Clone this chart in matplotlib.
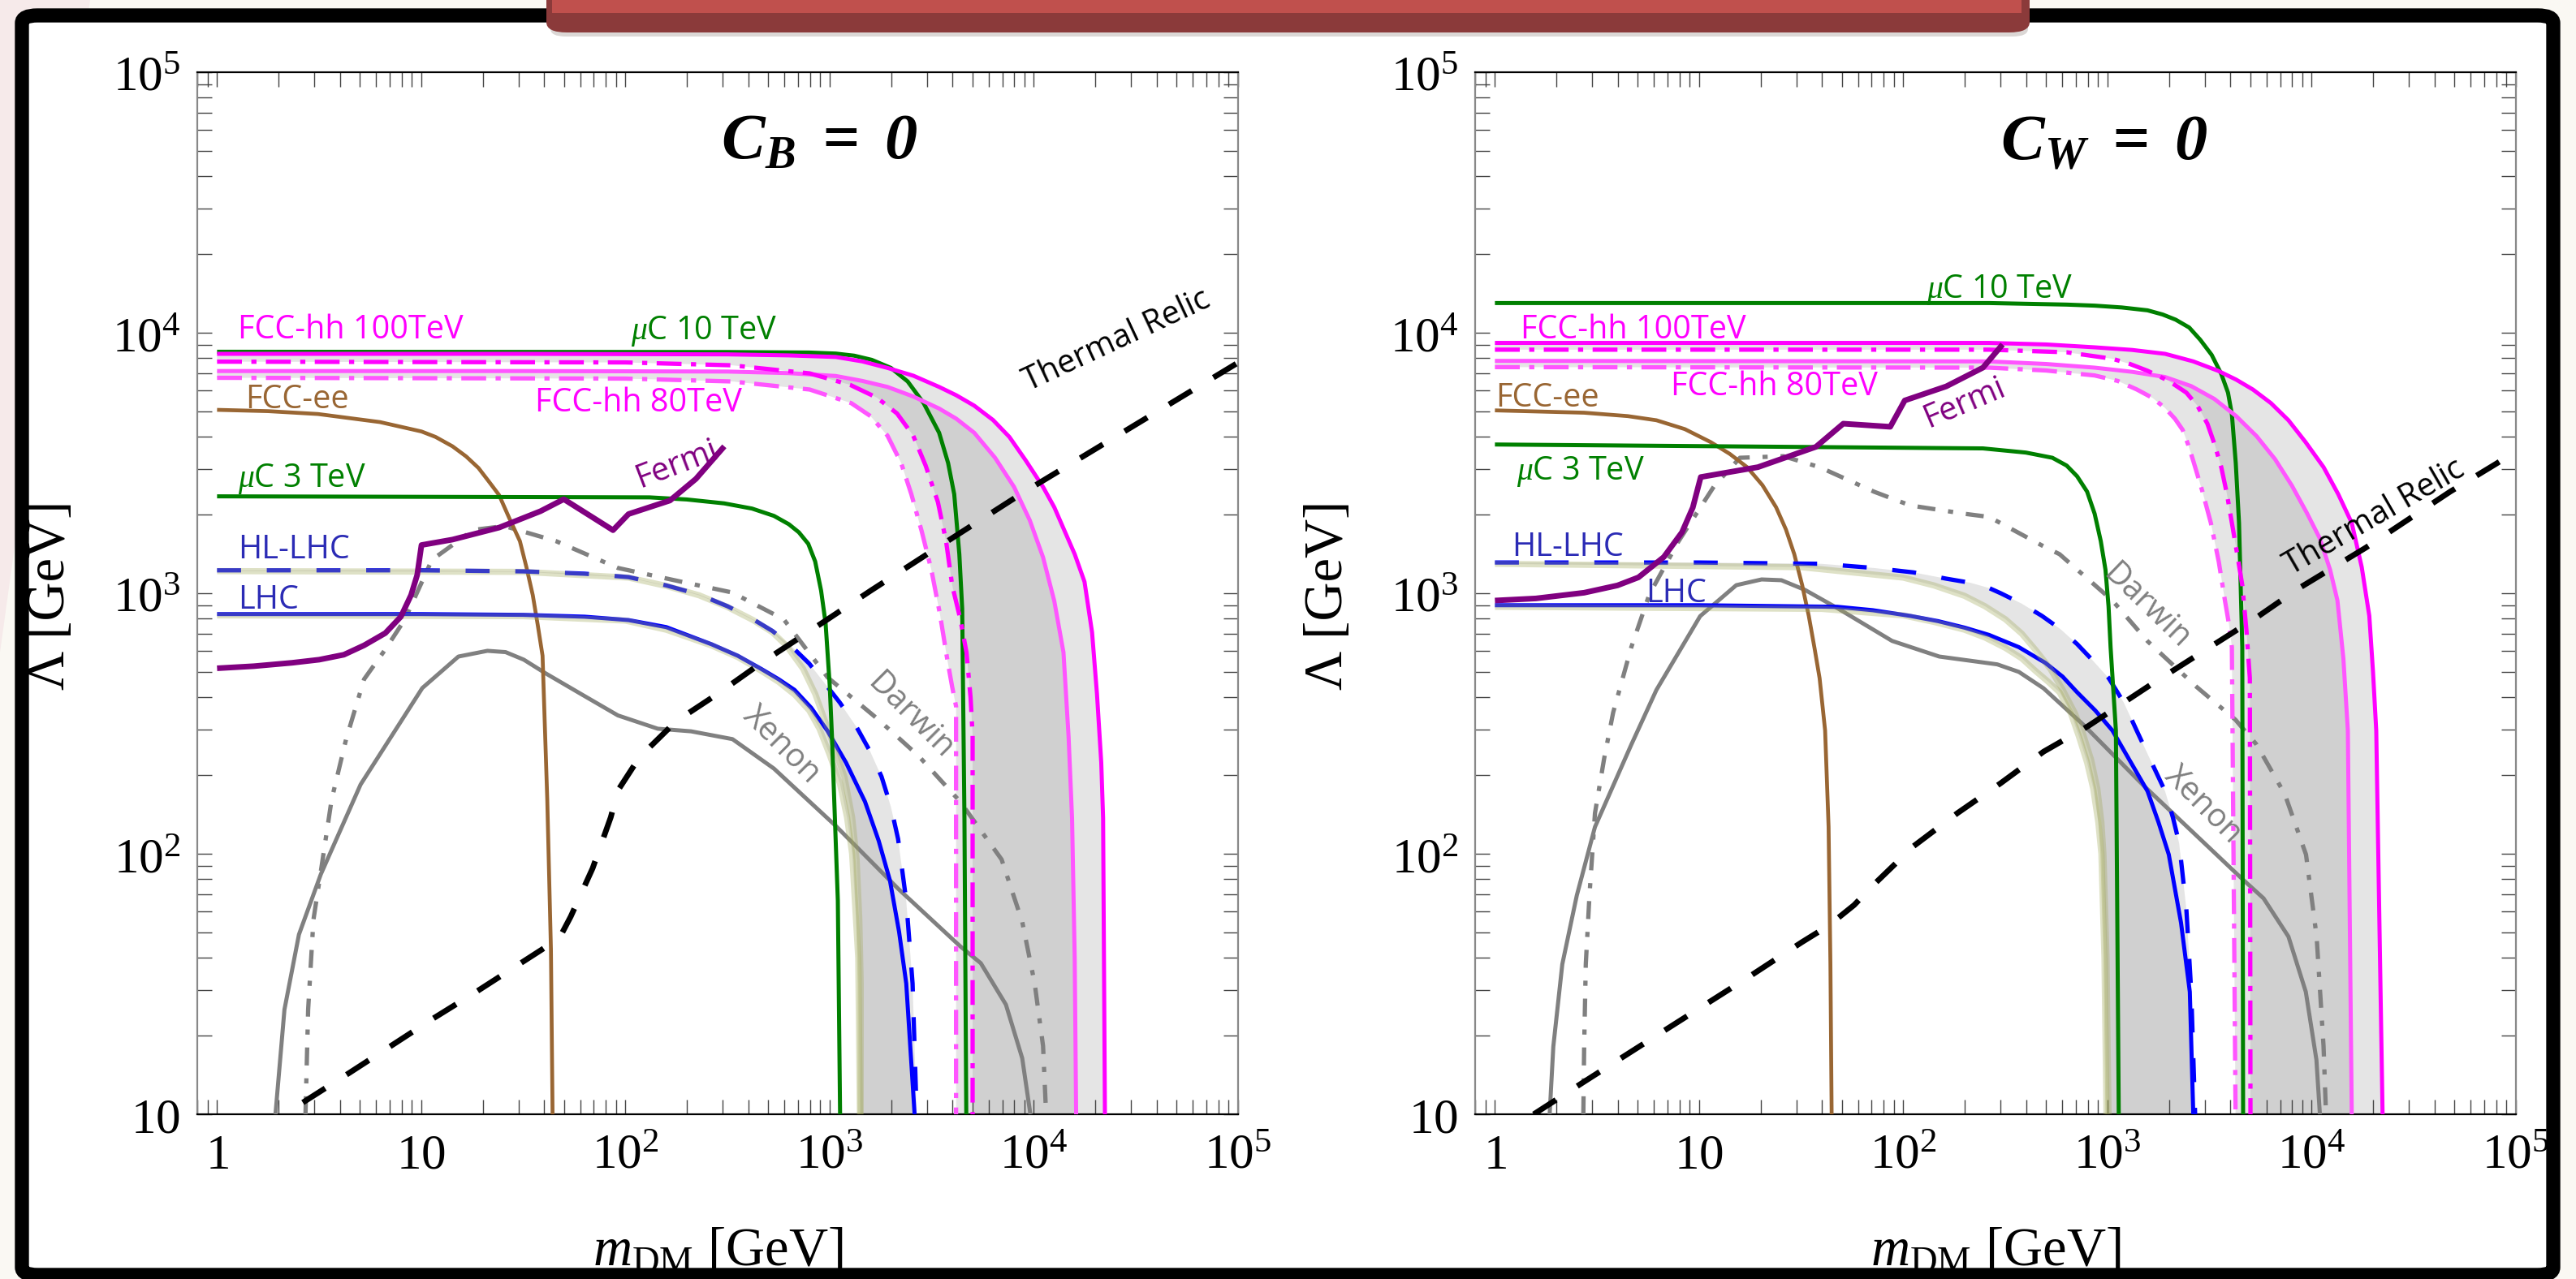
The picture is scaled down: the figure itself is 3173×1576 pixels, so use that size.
import matplotlib
matplotlib.use("Agg")
import numpy as np
import matplotlib.pyplot as plt
from matplotlib.patches import FancyBboxPatch, Polygon, Rectangle
from matplotlib.ticker import FixedLocator, FixedFormatter, LogLocator, NullFormatter

plt.rcParams.update({
    'mathtext.fontset': 'custom',
    'mathtext.rm': 'Liberation Serif',
    'mathtext.it': 'Liberation Serif:italic',
    'mathtext.bf': 'Liberation Serif:bold:italic',
})

# ---------------------------------------------------------------------------
# curves, as log10(m_DM / GeV) and log10(Lambda / GeV)
# ---------------------------------------------------------------------------
# left panel, C_B = 0
cb_uc10_m = [0, 2.5, 2.9, 3.03, 3.12, 3.206, 3.3, 3.382, 3.46, 3.536, 3.58, 3.61, 3.635, 3.649, 3.66, 3.669]
cb_uc10_L = [3.927, 3.926, 3.924, 3.92, 3.912, 3.896, 3.865, 3.813, 3.73, 3.616, 3.5, 3.38, 3.15, 2.941, 2.137, 1.0]
cb_uc3_m = [0, 2.118, 2.3, 2.483, 2.62, 2.727, 2.8, 2.849, 2.895, 2.929, 2.958, 2.98, 3.0, 3.011, 3.04, 3.051]
cb_uc3_L = [3.372, 3.368, 3.36, 3.345, 3.325, 3.297, 3.265, 3.234, 3.19, 3.122, 3.01, 2.885, 2.65, 2.455, 1.82, 1.0]
cb_fcc100_m = [0, 1.5, 2.5, 2.8, 3.03, 3.16, 3.283, 3.41, 3.536, 3.62, 3.708, 3.8, 3.88, 3.96, 4.045,
               4.1, 4.145, 4.2, 4.248, 4.285, 4.309, 4.33, 4.339, 4.348]
cb_fcc100_L = [3.919, 3.919, 3.917, 3.913, 3.907, 3.89, 3.865, 3.835, 3.792, 3.76, 3.72, 3.665, 3.6, 3.51,
               3.408, 3.33, 3.249, 3.15, 3.044, 2.85, 2.614, 2.35, 2.137, 1.0]
cb_fcc100dd_m = [0, 2.0, 2.522, 2.902, 3.1, 3.231, 3.33, 3.409, 3.47, 3.53, 3.57, 3.60, 3.64, 3.67, 3.69, 3.70, 3.70]
cb_fcc100dd_L = [3.889, 3.886, 3.875, 3.844, 3.8, 3.751, 3.69, 3.605, 3.49, 3.35, 3.2, 3.03, 2.9, 2.773, 2.6, 2.455, 1.0]
cb_fcc80_m = [0, 1.5, 2.5, 2.8, 3.03, 3.16, 3.283, 3.41, 3.536, 3.62, 3.708, 3.81, 3.903, 3.98, 4.045,
              4.1, 4.145, 4.17, 4.187, 4.2, 4.207]
cb_fcc80_L = [3.853, 3.853, 3.851, 3.845, 3.834, 3.815, 3.792, 3.755, 3.709, 3.67, 3.616, 3.52, 3.408, 3.28,
              3.138, 2.97, 2.773, 2.45, 2.137, 1.6, 1.0]
cb_fcc80dd_m = [0, 2.0, 2.522, 2.902, 3.105, 3.2, 3.283, 3.35, 3.40, 3.45, 3.498, 3.54, 3.577, 3.60, 3.619, 3.619]
cb_fcc80dd_L = [3.827, 3.824, 3.813, 3.782, 3.73, 3.68, 3.605, 3.5, 3.38, 3.24, 3.09, 2.92, 2.741, 2.64, 2.566, 1.0]
cb_ee_m = [0, 0.25, 0.494, 0.798, 1.001, 1.07, 1.153, 1.22, 1.28, 1.33, 1.381, 1.43, 1.483, 1.515, 1.546,
           1.57, 1.594, 1.617, 1.635, 1.643]
cb_ee_L = [3.704, 3.699, 3.688, 3.657, 3.621, 3.6, 3.564, 3.525, 3.481, 3.43, 3.377, 3.29, 3.2, 3.1, 2.993,
           2.88, 2.76, 2.208, 1.632, 1.0]
cb_hl_m = [0, 1.0, 1.5, 1.8, 2.015, 2.2, 2.361, 2.5, 2.625, 2.72, 2.808, 2.9, 2.969, 3.05, 3.132, 3.2,
           3.254, 3.3, 3.335, 3.375, 3.406, 3.426]
cb_hl_L = [3.088, 3.088, 3.084, 3.075, 3.062, 3.03, 2.995, 2.95, 2.9, 2.855, 2.80, 2.73, 2.661, 2.58, 2.486,
           2.39, 2.296, 2.18, 2.057, 1.82, 1.502, 1.0]
cb_lhc_m = [0, 1.0, 1.5, 1.8, 2.015, 2.2, 2.422, 2.55, 2.666, 2.75, 2.828, 2.91, 2.99, 3.08, 3.173, 3.24,
            3.295, 3.34, 3.375, 3.416]
cb_lhc_L = [2.92, 2.92, 2.917, 2.91, 2.897, 2.87, 2.804, 2.76, 2.709, 2.67, 2.629, 2.56, 2.471, 2.35, 2.2,
            2.05, 1.898, 1.7, 1.502, 1.0]
cb_olhl_m = [0, 1.5, 2.015, 2.2, 2.361, 2.5, 2.625, 2.72, 2.787, 2.87, 2.929, 3.0, 3.072, 3.11, 3.132, 3.145, 3.152, 3.152]
cb_olhl_L = [3.085, 3.082, 3.06, 3.028, 2.992, 2.947, 2.897, 2.85, 2.8, 2.71, 2.614, 2.46, 2.296, 2.14, 1.978, 1.75, 1.502, 1.0]
cb_ollhc_m = [0, 1.5, 2.0, 2.2, 2.42, 2.55, 2.67, 2.75, 2.83, 2.9, 2.95, 3.0, 3.05, 3.085, 3.11, 3.14, 3.148]
cb_ollhc_L = [2.915, 2.912, 2.895, 2.86, 2.80, 2.755, 2.70, 2.66, 2.61, 2.55, 2.48, 2.38, 2.27, 2.14, 2.0, 1.6, 1.0]
cb_fermi_m = [0, 0.18, 0.367, 0.5, 0.621, 0.72, 0.824, 0.9, 0.95, 0.98, 1.001, 1.153, 1.381, 1.584, 1.698,
              1.939, 2.015, 2.218, 2.345, 2.484]
cb_fermi_L = [2.712, 2.72, 2.733, 2.745, 2.764, 2.8, 2.847, 2.91, 2.993, 3.07, 3.185, 3.206, 3.252, 3.315,
              3.361, 3.242, 3.304, 3.356, 3.439, 3.564]
cb_xenon_m = [0.286, 0.33, 0.401, 0.508, 0.703, 0.845, 1.005, 1.182, 1.324, 1.413, 1.502, 1.608, 1.785,
              1.963, 2.158, 2.321, 2.524, 2.727, 3.031, 3.335, 3.639, 3.74, 3.863, 3.943, 3.983]
cb_xenon_L = [1.0, 1.402, 1.69, 1.921, 2.266, 2.44, 2.636, 2.757, 2.779, 2.774, 2.745, 2.693, 2.612,
              2.531, 2.48, 2.47, 2.44, 2.327, 2.106, 1.866, 1.645, 1.58, 1.421, 1.215, 1.0]
cb_darwin_m = [0.433, 0.446, 0.472, 0.517, 0.561, 0.632, 0.72, 0.82, 0.92, 1.052, 1.255, 1.407, 1.66,
               1.963, 2.269, 2.522, 2.775, 2.99, 3.234, 3.436, 3.639, 3.842, 3.943, 4.004, 4.045, 4.06]
cb_darwin_L = [1.0, 1.402, 1.747, 1.978, 2.208, 2.44, 2.67, 2.78, 2.9, 3.128, 3.243, 3.258, 3.2,
               3.097, 3.045, 3.003, 2.9, 2.677, 2.518, 2.375, 2.2, 1.978, 1.739, 1.502, 1.262, 1.0]
cb_relic_m = [0.42, 0.65, 0.845, 1.057, 1.271, 1.59, 1.679, 1.732, 1.839, 1.928, 1.963, 2.069, 2.159,
              2.247, 2.452, 2.666, 2.99, 3.203, 3.517, 3.943, 5.01]
cb_relic_L = [1.045, 1.16, 1.259, 1.367, 1.471, 1.632, 1.68, 1.759, 1.944, 2.14, 2.243, 2.371, 2.44,
              2.508, 2.614, 2.733, 2.9, 3.011, 3.17, 3.384, 3.89]

# right panel, C_W = 0
cw_uc10_m = [0, 2.42, 2.8, 2.937, 3.07, 3.196, 3.27, 3.334, 3.4, 3.454, 3.51, 3.557, 3.59, 3.609, 3.628,
             3.644, 3.66, 3.664]
cw_uc10_L = [4.114, 4.114, 4.108, 4.104, 4.097, 4.086, 4.07, 4.05, 4.02, 3.973, 3.915, 3.842, 3.77, 3.687,
             3.5, 3.27, 2.793, 1.0]
cw_uc3_m = [0, 2.39, 2.6, 2.73, 2.8, 2.851, 2.9, 2.937, 2.967, 2.99, 3.005, 3.015, 3.041, 3.055]
cw_uc3_L = [3.571, 3.556, 3.54, 3.52, 3.49, 3.449, 3.39, 3.305, 3.2, 3.09, 2.95, 2.793, 2.473, 1.0]
cw_fcc100_m = [0, 2.42, 2.7, 2.937, 3.12, 3.282, 3.42, 3.541, 3.63, 3.712, 3.8, 3.886, 3.97, 4.058, 4.13,
               4.196, 4.245, 4.282, 4.3, 4.316, 4.347]
cw_fcc100_L = [3.961, 3.961, 3.955, 3.944, 3.934, 3.919, 3.89, 3.854, 3.82, 3.782, 3.73, 3.664, 3.58, 3.484,
               3.38, 3.27, 3.1, 2.913, 2.7, 2.473, 1.0]
cw_fcc100dd_m = [0, 2.42, 2.8, 3.024, 3.11, 3.196, 3.3, 3.386, 3.44, 3.489, 3.525, 3.557, 3.585, 3.609,
                 3.635, 3.66, 3.68, 3.697, 3.70]
cw_fcc100dd_L = [3.935, 3.935, 3.925, 3.9, 3.88, 3.854, 3.815, 3.77, 3.72, 3.651, 3.57, 3.484, 3.38, 3.27,
                 3.15, 3.031, 2.86, 2.674, 1.0]
cw_fcc80_m = [0, 2.42, 2.7, 2.937, 3.12, 3.282, 3.41, 3.523, 3.63, 3.73, 3.82, 3.903, 3.975, 4.04, 4.09,
              4.126, 4.155, 4.177, 4.196]
cw_fcc80_L = [3.892, 3.89, 3.88, 3.866, 3.85, 3.83, 3.795, 3.746, 3.68, 3.603, 3.515, 3.413, 3.31, 3.21,
              3.09, 2.972, 2.75, 2.473, 1.0]
cw_fcc80dd_m = [0, 2.42, 2.7, 2.937, 3.05, 3.144, 3.22, 3.282, 3.33, 3.368, 3.395, 3.42, 3.465, 3.506,
                3.545, 3.575, 3.595, 3.609, 3.627]
cw_fcc80dd_L = [3.868, 3.866, 3.855, 3.836, 3.815, 3.782, 3.75, 3.711, 3.67, 3.627, 3.57, 3.508, 3.39, 3.27,
                3.12, 2.972, 2.88, 2.793, 1.0]
cw_ee_m = [0, 0.437, 0.65, 0.791, 0.93, 1.057, 1.15, 1.235, 1.31, 1.377, 1.425, 1.466, 1.505, 1.537, 1.565,
           1.59, 1.617, 1.634, 1.643, 1.649]
cw_ee_L = [3.702, 3.693, 3.68, 3.664, 3.63, 3.58, 3.535, 3.484, 3.415, 3.33, 3.245, 3.15, 3.03, 2.913, 2.79,
           2.674, 2.473, 2.103, 1.576, 1.0]
cw_hl_m = [0, 1.0, 1.6, 1.856, 2.05, 2.21, 2.33, 2.42, 2.477, 2.58, 2.679, 2.77, 2.851, 2.93, 3.006, 3.08,
           3.144, 3.21, 3.282, 3.32, 3.351, 3.386, 3.41, 3.429]
cw_hl_L = [3.118, 3.118, 3.113, 3.097, 3.08, 3.056, 3.04, 3.02, 3.0, 2.96, 2.913, 2.862, 2.805, 2.74, 2.674,
           2.58, 2.471, 2.36, 2.24, 2.14, 2.04, 1.788, 1.47, 1.0]
cw_lhc_m = [0, 1.0, 1.677, 1.85, 2.034, 2.17, 2.3, 2.42, 2.566, 2.695, 2.78, 2.851, 2.94, 3.024, 3.1, 3.196,
            3.25, 3.3, 3.36, 3.403, 3.42]
cw_lhc_L = [2.954, 2.954, 2.948, 2.935, 2.913, 2.893, 2.868, 2.84, 2.793, 2.733, 2.68, 2.62, 2.55, 2.473,
            2.37, 2.24, 2.12, 1.997, 1.735, 1.47, 1.0]
cw_olhl_m = [0, 1.5, 2.0, 2.15, 2.3, 2.4, 2.5, 2.58, 2.65, 2.72, 2.78, 2.84, 2.88, 2.92, 2.95, 2.97, 2.98, 2.995, 3.005]
cw_olhl_L = [3.113, 3.10, 3.06, 3.03, 2.99, 2.95, 2.90, 2.845, 2.78, 2.71, 2.63, 2.54, 2.46, 2.36, 2.25, 2.12, 2.0, 1.6, 1.0]
cw_ollhc_m = [0, 1.6, 2.0, 2.15, 2.3, 2.4, 2.5, 2.58, 2.65, 2.71, 2.765, 2.82, 2.86, 2.9, 2.93, 2.955, 2.97, 2.985, 2.995]
cw_ollhc_L = [2.948, 2.94, 2.915, 2.89, 2.86, 2.83, 2.79, 2.75, 2.70, 2.66, 2.62, 2.54, 2.45, 2.35, 2.25, 2.12, 2.0, 1.6, 1.0]
cw_fermi_m = [0, 0.2, 0.437, 0.6, 0.703, 0.827, 0.916, 0.969, 1.008, 1.288, 1.572, 1.706, 1.936, 2.007,
              2.21, 2.39, 2.486]
cw_fermi_L = [2.972, 2.98, 3.002, 3.03, 3.061, 3.139, 3.234, 3.329, 3.446, 3.484, 3.562, 3.651, 3.639, 3.74,
              3.794, 3.866, 3.955]
cw_xenon_m = [0.268, 0.286, 0.33, 0.401, 0.49, 0.668, 0.791, 1.005, 1.182, 1.306, 1.403, 1.518, 1.679,
              1.945, 2.176, 2.46, 2.566, 2.687, 2.886, 3.179, 3.66, 3.764, 3.886, 3.971, 4.023, 4.04]
cw_xenon_L = [1.0, 1.26, 1.576, 1.84, 2.103, 2.419, 2.629, 2.912, 3.031, 3.053, 3.05, 3.013, 2.942,
              2.817, 2.757, 2.727, 2.698, 2.635, 2.492, 2.26, 1.903, 1.829, 1.682, 1.47, 1.209, 1.0]
cw_darwin_m = [0.433, 0.437, 0.445, 0.463, 0.49, 0.535, 0.579, 0.668, 0.756, 0.898, 1.075, 1.2, 1.413,
               1.59, 1.856, 2.034, 2.3, 2.42, 2.687, 2.765, 3.024, 3.196, 3.437, 3.627, 3.73, 3.868,
               3.972, 4.024, 4.058, 4.07]
cw_darwin_L = [1.0, 1.26, 1.576, 1.84, 2.156, 2.366, 2.542, 2.793, 2.995, 3.198, 3.413, 3.52, 3.526,
               3.484, 3.39, 3.337, 3.305, 3.293, 3.18, 3.15, 2.972, 2.816, 2.64, 2.514, 2.419, 2.229,
               1.997, 1.682, 1.26, 1.0]
cw_relic_m = [0.19, 0.437, 0.791, 1.235, 1.502, 1.634, 1.759, 1.856, 2.05, 2.265, 2.477, 2.687, 2.903,
              3.214, 3.73, 3.937, 4.265, 4.678, 4.903, 5.01]
cw_relic_L = [1.0, 1.125, 1.302, 1.523, 1.66, 1.724, 1.803, 1.882, 2.029, 2.156, 2.271, 2.392, 2.489,
              2.65, 2.907, 3.019, 3.175, 3.39, 3.497, 3.55]

x_ticks = [1, 10, 100, 1e3, 1e4, 1e5]
x_ticklabels = ['$1$', '$10$', '$10^{2}$', '$10^{3}$', '$10^{4}$', '$10^{5}$']
y_ticks = [10, 100, 1e3, 1e4, 1e5]
y_ticklabels = ['$10$', '$10^{2}$', '$10^{3}$', '$10^{4}$', '$10^{5}$']

GREEN = '#008000'
MAG = '#ff00ff'
MAG2 = '#ff55ff'
BROWN = '#996633'
BLUE = '#0000ff'
PURPLE = '#800080'
GRAY = '#808080'
OLIVE = '#a3aa5c'
LBLUE = '#2b2bb5'
SANS = 'Open Sans'
SERIF = 'Liberation Serif'

W, H = 3173, 1576
fig = plt.figure(figsize=(W / 100, H / 100), dpi=100, facecolor='#faf8f3')

# decorative frame
fig.add_artist(Polygon([(0, 1), (0.035, 1), (0, 0.49)], closed=True, transform=fig.transFigure,
                       facecolor='#f6eaea', edgecolor='none', zorder=-20))
fig.add_artist(FancyBboxPatch((27 / W, 5 / H), (3145 - 27) / W, (1571 - 19) / H,
                              boxstyle='round,pad=0,rounding_size=0.006', transform=fig.transFigure,
                              facecolor='white', edgecolor='none', zorder=-10))
fig.add_artist(FancyBboxPatch((27 / W, 5 / H), (3145 - 27) / W, (1571 - 19) / H,
                              boxstyle='round,pad=0,rounding_size=0.006', transform=fig.transFigure,
                              facecolor='none', edgecolor='black', lw=12.5, zorder=20))
fig.add_artist(FancyBboxPatch((678 / W, 1 - 45 / H), (2498 - 678) / W, 45 / H,
                              boxstyle='round,pad=0,rounding_size=0.006', transform=fig.transFigure,
                              facecolor='#b8b0ac', edgecolor='none', alpha=0.5, zorder=20.5))
fig.add_artist(FancyBboxPatch((673 / W, 1 - 40 / H), (2500 - 673) / W, 60 / H,
                              boxstyle='round,pad=0,rounding_size=0.008', transform=fig.transFigure,
                              facecolor='#8b3a3a', edgecolor='none', zorder=21))
fig.add_artist(Rectangle((680 / W, 1 - 16 / H), (2490 - 680) / W, 20 / H, transform=fig.transFigure,
                         facecolor='#c0504d', edgecolor='none', zorder=22))


def lg(v):
    return 10 ** np.asarray(v, dtype=float)


def band(ax, ma, La, mb, Lb):
    px = np.concatenate([lg(ma), lg(mb)[::-1]])
    py = np.concatenate([lg(La), lg(Lb)[::-1]])
    ax.fill(px, py, color='0.5', alpha=0.2, lw=0, zorder=1)


panels = [
    dict(left=243,
         title=r'$\mathbf{C_B}\ \mathbf{=}\ \mathbf{0}$', title_x=0.598,
         uc10=(cb_uc10_m, cb_uc10_L), uc3=(cb_uc3_m, cb_uc3_L),
         fcc100=(cb_fcc100_m, cb_fcc100_L), fcc100dd=(cb_fcc100dd_m, cb_fcc100dd_L),
         fcc80=(cb_fcc80_m, cb_fcc80_L), fcc80dd=(cb_fcc80dd_m, cb_fcc80dd_L),
         ee=(cb_ee_m, cb_ee_L), hl=(cb_hl_m, cb_hl_L), lhc=(cb_lhc_m, cb_lhc_L),
         olhl=(cb_olhl_m, cb_olhl_L), ollhc=(cb_ollhc_m, cb_ollhc_L),
         fermi=(cb_fermi_m, cb_fermi_L), xenon=(cb_xenon_m, cb_xenon_L),
         darwin=(cb_darwin_m, cb_darwin_L), relic=(cb_relic_m, cb_relic_L),
         labels=[('FCC-hh 100TeV', 0.101, 3.978, MAG, 0),
                 (r'$\mu$C 10 TeV', 2.027, 3.975, GREEN, 0),
                 ('FCC-ee', 0.139, 3.710, BROWN, 0),
                 ('FCC-hh 80TeV', 1.558, 3.698, MAG, 0),
                 (r'$\mu$C 3 TeV', 0.101, 3.408, GREEN, 0),
                 ('HL-LHC', 0.101, 3.134, LBLUE, 0),
                 ('LHC', 0.101, 2.941, LBLUE, 0)],
         rlabels=[('Fermi', 2.25, 3.495, PURPLE, 21),
                  ('Darwin', 3.394, 2.527, GRAY, -45),
                  ('Xenon', 2.766, 2.417, GRAY, -45),
                  ('Thermal Relic', 4.408, 3.969, 'black', 25)]),
    dict(left=1817,
         title=r'$\mathbf{C_W}\ \mathbf{=}\ \mathbf{0}$', title_x=0.604,
         uc10=(cw_uc10_m, cw_uc10_L), uc3=(cw_uc3_m, cw_uc3_L),
         fcc100=(cw_fcc100_m, cw_fcc100_L), fcc100dd=(cw_fcc100dd_m, cw_fcc100dd_L),
         fcc80=(cw_fcc80_m, cw_fcc80_L), fcc80dd=(cw_fcc80dd_m, cw_fcc80dd_L),
         ee=(cw_ee_m, cw_ee_L), hl=(cw_hl_m, cw_hl_L), lhc=(cw_lhc_m, cw_lhc_L),
         olhl=(cw_olhl_m, cw_olhl_L), ollhc=(cw_ollhc_m, cw_ollhc_L),
         fermi=(cw_fermi_m, cw_fermi_L), xenon=(cw_xenon_m, cw_xenon_L),
         darwin=(cw_darwin_m, cw_darwin_L), relic=(cw_relic_m, cw_relic_L),
         labels=[('FCC-hh 100TeV', 0.127, 3.978, MAG, 0),
                 (r'$\mu$C 10 TeV', 2.114, 4.134, GREEN, 0),
                 ('FCC-ee', 0.002, 3.717, BROWN, 0),
                 ('FCC-hh 80TeV', 0.862, 3.760, MAG, 0),
                 (r'$\mu$C 3 TeV', 0.107, 3.436, GREEN, 0),
                 ('HL-LHC', 0.083, 3.143, LBLUE, 0),
                 ('LHC', 0.739, 2.966, LBLUE, 0)],
         rlabels=[('Fermi', 2.301, 3.729, PURPLE, 23),
                  ('Darwin', 3.192, 2.947, GRAY, -44),
                  ('Xenon', 3.47, 2.187, GRAY, -45),
                  ('Thermal Relic', 4.308, 3.29, 'black', 30)]),
]

for p in panels:
    ax = fig.add_axes([p['left'] / W, (H - 1373) / H, 1282 / W, 1284 / H])
    ax.set_xscale('log')
    ax.set_yscale('log')
    ax.set_xlim(0.8, 1e5)
    ax.set_ylim(10, 1e5)

    # shaded bands
    band(ax, *p['fcc100dd'], *p['fcc100'])
    band(ax, *p['fcc80dd'], *p['fcc80'])
    band(ax, *p['olhl'], *p['hl'])
    band(ax, *p['ollhc'], *p['lhc'])

    def line(key, **kw):
        m, L = p[key]
        ax.plot(lg(m), lg(L), solid_capstyle='butt', dash_capstyle='butt',
                solid_joinstyle='round', **kw)

    line('xenon', color=GRAY, lw=3.6, zorder=3)
    line('darwin', color=GRAY, lw=3.8, dashes=[4.2, 3.0, 1.2, 3.0], zorder=3)
    line('ee', color=BROWN, lw=3.4, zorder=4)
    line('lhc', color=BLUE, lw=3.6, zorder=4)
    line('hl', color=BLUE, lw=3.8, dashes=[5.6, 6.0], zorder=4)
    line('olhl', color=OLIVE, lw=5.5, alpha=0.35, zorder=5)
    line('ollhc', color=OLIVE, lw=5.5, alpha=0.35, zorder=5)
    line('uc3', color=GREEN, lw=3.6, zorder=5)
    line('uc10', color=GREEN, lw=3.6, zorder=5)
    line('fcc80', color=MAG2, lw=3.6, zorder=5)
    line('fcc80dd', color=MAG2, lw=3.8, dashes=[5.8, 2.2, 1.2, 2.2], zorder=5)
    line('fcc100', color=MAG, lw=3.6, zorder=6)
    line('fcc100dd', color=MAG, lw=3.8, dashes=[5.8, 2.2, 1.2, 2.2], zorder=6)
    line('fermi', color=PURPLE, lw=5, zorder=6)
    line('relic', color='black', lw=5, dashes=[4.7, 4.5], zorder=7)

    for s, lx, ly, c, r in p['labels']:
        ax.text(10 ** lx, 10 ** ly, s, color=c, fontsize=28.5, family=SANS,
                ha='left', va='baseline', zorder=10)
    for s, lx, ly, c, r in p['rlabels']:
        ax.text(10 ** lx, 10 ** ly, s, color=c, fontsize=28.5, family=SANS,
                ha='center', va='center', rotation=r, rotation_mode='anchor', zorder=10)

    ax.text(p['title_x'], 0.933, p['title'], transform=ax.transAxes, fontsize=58,
            ha='center', va='center', zorder=10)

    # axes cosmetics
    ax.xaxis.set_major_locator(FixedLocator(x_ticks))
    ax.xaxis.set_major_formatter(FixedFormatter(x_ticklabels))
    ax.yaxis.set_major_locator(FixedLocator(y_ticks))
    ax.yaxis.set_major_formatter(FixedFormatter(y_ticklabels))
    ax.xaxis.set_minor_locator(LogLocator(base=10, subs=np.arange(2, 10), numticks=20))
    ax.yaxis.set_minor_locator(LogLocator(base=10, subs=np.arange(2, 10), numticks=20))
    ax.xaxis.set_minor_formatter(NullFormatter())
    ax.yaxis.set_minor_formatter(NullFormatter())
    ax.tick_params(which='both', direction='in', length=13, width=1.0, color='#444444',
                   top=True, right=True)
    ax.tick_params(axis='both', which='major', labelsize=44, pad=15)
    for side in ('top', 'bottom'):
        ax.spines[side].set_color('black')
        ax.spines[side].set_linewidth(1.6)
    for side in ('left', 'right'):
        ax.spines[side].set_color('#888888')
        ax.spines[side].set_linewidth(1.6)

    cx = (p['left'] + 641) / W
    fig.text((p['left'] - 181) / W, 1 - 733 / H, 'Λ [GeV]', rotation=90, family=SERIF,
             fontsize=48, ha='center', va='center', zorder=5)
    fig.text(cx, 1 - 1560 / H, r'$m_{\rm DM}$ [GeV]', family=SERIF, fontsize=48,
             ha='center', va='baseline', zorder=5)

fig.savefig('out.png', dpi=100, facecolor=fig.get_facecolor())
